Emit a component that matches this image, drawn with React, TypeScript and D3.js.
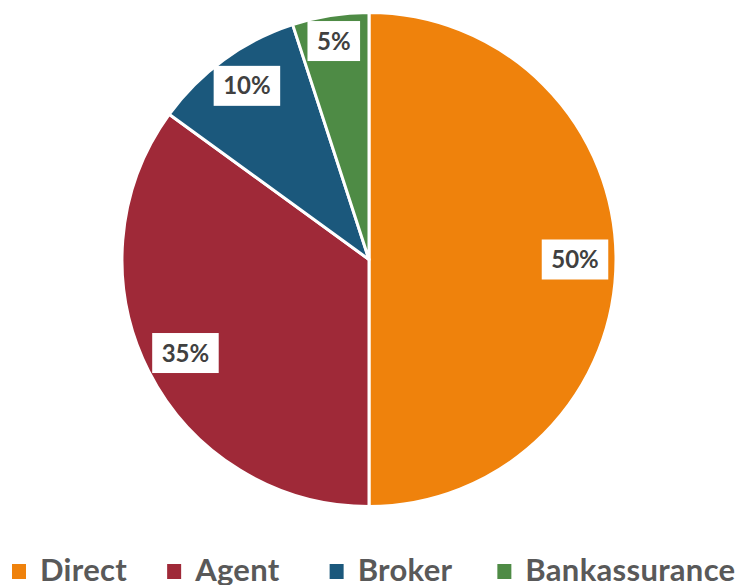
import React, { useEffect, useRef } from "react";
import * as d3 from "d3";

const categories = ["Direct", "Agent", "Broker", "Bankassurance"];
const values = [50, 35, 10, 5];
const labels = ["50%", "35%", "10%", "5%"];
const colors = ["#EF820C", "#9F2938", "#1B587C", "#4E8B45"];

const W = 744;
const H = 585;
const CX = 369;
const CY = 259.5;
const R = 247;
const LABEL_R = 206;
// Excel "best fit" nudges for label placement
const LABEL_NUDGE: Record<string, [number, number]> = {
  Broker: [-1, -7],
  Bankassurance: [-3, -15],
};

export default function App() {
  const ref = useRef<SVGSVGElement | null>(null);
  useEffect(() => {
    const svg = d3.select(ref.current);
    svg.selectAll("*").remove();
    const data = categories.map((c, i) => ({ c, v: values[i], l: labels[i], col: colors[i] }));
    const pie = d3.pie<any>().sort(null).value((d) => d.v);
    const arcs = pie(data);
    const arc = d3.arc<any>().innerRadius(0).outerRadius(R);
    const labelArc = d3.arc<any>().innerRadius(LABEL_R).outerRadius(LABEL_R);
    const g = svg.append("g").attr("transform", `translate(${CX},${CY})`);
    g.selectAll("path")
      .data(arcs)
      .join("path")
      .attr("d", arc as any)
      .attr("fill", (d: any) => d.data.col)
      .attr("stroke", "#fff")
      .attr("stroke-width", 3)
      .attr("stroke-linejoin", "round");

    arcs.forEach((a: any) => {
      const [x0, y0] = labelArc.centroid(a);
      const n = LABEL_NUDGE[a.data.c] || [0, 0];
      const x = x0 + n[0];
      const y = y0 + n[1];
      const lg = g.append("g").attr("transform", `translate(${x},${y})`);
      const rect = lg.append("rect").attr("fill", "#fff");
      const t = lg
        .append("text")
        .attr("text-anchor", "middle")
        .attr("dy", "0.36em")
        .attr("font-family", "Lato, 'Open Sans', sans-serif")
        .attr("font-weight", 700)
        .attr("font-size", 24)
        .attr("fill", "#404040")
        .text(a.data.l);
      const w = (t.node() as SVGTextElement).getComputedTextLength() + 19;
      const h = 40;
      rect.attr("x", -w / 2).attr("y", -h / 2).attr("width", w).attr("height", h);
    });

    // legend
    const baseY = 581;
    const leg = svg.append("g");
    let x = 12;
    const gaps = [40, 50, 45, 0];
    data.forEach((d, i) => {
      leg
        .append("rect")
        .attr("x", x)
        .attr("y", 564)
        .attr("width", 14)
        .attr("height", 15)
        .attr("fill", d.col);
      const t = leg
        .append("text")
        .attr("x", x + 28)
        .attr("y", baseY)
        .attr("font-family", "Lato, 'Open Sans', sans-serif")
        .attr("font-weight", 700)
        .attr("font-size", 31)
        .attr("letter-spacing", 0.3)
        .attr("fill", "#595959")
        .text(d.c);
      const tw = (t.node() as SVGTextElement).getComputedTextLength();
      x = x + 28 + tw + gaps[i];
    });
  }, []);
  return (
    <svg
      ref={ref}
      width={W}
      height={H}
      style={{ position: "absolute", left: 0, top: 0, background: "#fff" }}
    />
  );
}
